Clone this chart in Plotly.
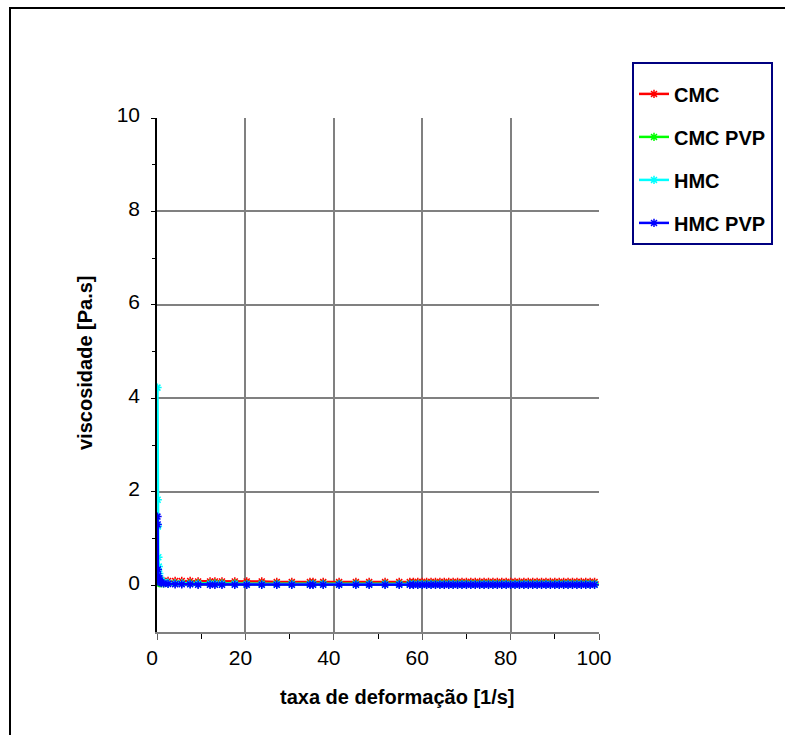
import plotly.graph_objects as go

# shear rate [1/s]
shear_rate = [0.1, 0.15, 0.2, 0.3, 0.4, 0.5, 0.7, 1.0, 1.5, 2.5, 4.1, 5.6, 7.5, 9.3,
              12.0, 13.1, 14.7, 17.6, 20.3, 23.7, 27.1, 30.5, 34.6, 35.3, 37.6, 41.2,
              45.0, 48.0, 51.6, 54.8, 57.2,
              58, 59, 60, 61, 62, 63, 64, 65, 66, 67, 68, 69, 70, 71, 72, 73, 74, 75,
              76, 77, 78, 79, 80, 81, 82, 83, 84, 85, 86, 87, 88, 89, 90, 91, 92, 93,
              94, 95, 96, 97, 98, 99, 100]

cmc = [0.16, 0.14, 0.13, 0.12, 0.11, 0.10, 0.10, 0.09, 0.09, 0.09, 0.09, 0.09, 0.09, 0.08,
       0.08, 0.08, 0.08, 0.08, 0.08, 0.08, 0.07, 0.07, 0.07, 0.07, 0.07, 0.07,
       0.07, 0.07, 0.07, 0.07, 0.07,
       0.07, 0.07, 0.07, 0.07, 0.07, 0.07, 0.07, 0.07, 0.07, 0.07, 0.07, 0.07, 0.07, 0.07,
       0.07, 0.07, 0.07, 0.07, 0.07, 0.07, 0.07, 0.07, 0.07, 0.07, 0.07, 0.07, 0.07, 0.07,
       0.07, 0.07, 0.07, 0.07, 0.07, 0.07, 0.07, 0.07, 0.07, 0.07, 0.07, 0.07, 0.07, 0.07]

cmc_pvp = [0.09, 0.08, 0.07, 0.06, 0.06, 0.05, 0.05, 0.05, 0.04, 0.04, 0.04, 0.04, 0.04, 0.04,
           0.04, 0.04, 0.04, 0.04, 0.03, 0.03, 0.03, 0.03, 0.03, 0.03, 0.03, 0.03,
           0.03, 0.03, 0.03, 0.03, 0.03,
           0.03, 0.03, 0.03, 0.03, 0.03, 0.03, 0.03, 0.03, 0.03, 0.03, 0.03, 0.03, 0.03, 0.03,
           0.03, 0.03, 0.03, 0.03, 0.03, 0.03, 0.03, 0.03, 0.03, 0.03, 0.03, 0.03, 0.03, 0.03,
           0.03, 0.03, 0.03, 0.03, 0.03, 0.03, 0.03, 0.03, 0.03, 0.03, 0.03, 0.03, 0.03, 0.03]

hmc = [4.23, 1.83, 1.26, 0.60, 0.40, 0.25, 0.15, 0.10, 0.07, 0.05, 0.04, 0.04, 0.03, 0.03,
       0.03, 0.03, 0.03, 0.03, 0.02, 0.02, 0.02, 0.02, 0.02, 0.02, 0.02, 0.02,
       0.02, 0.02, 0.02, 0.02, 0.02,
       0.02, 0.02, 0.02, 0.02, 0.02, 0.02, 0.02, 0.02, 0.02, 0.02, 0.02, 0.02, 0.02, 0.02,
       0.02, 0.02, 0.02, 0.02, 0.02, 0.02, 0.02, 0.02, 0.02, 0.02, 0.02, 0.02, 0.02, 0.02,
       0.02, 0.02, 0.02, 0.02, 0.02, 0.02, 0.02, 0.02, 0.02, 0.02, 0.02, 0.02, 0.02, 0.02]

hmc_pvp = [1.47, 1.30, 0.34, 0.20, 0.15, 0.10, 0.07, 0.05, 0.04, 0.03, 0.02, 0.02, 0.02, 0.01,
           0.01, 0.01, 0.01, 0.01, 0.01, 0.01, 0.01, 0.01, 0.01, 0.01, 0.01, 0.01,
           0.01, 0.01, 0.01, 0.01, 0.01,
           0.01, 0.01, 0.01, 0.01, 0.01, 0.01, 0.01, 0.01, 0.01, 0.01, 0.01, 0.01, 0.01, 0.01,
           0.01, 0.01, 0.01, 0.01, 0.01, 0.01, 0.01, 0.01, 0.01, 0.01, 0.01, 0.01, 0.01, 0.01,
           0.01, 0.01, 0.01, 0.01, 0.01, 0.01, 0.01, 0.01, 0.01, 0.01, 0.01, 0.01, 0.01, 0.01]

series = [("CMC", cmc, "#FF0000"), ("CMC PVP", cmc_pvp, "#00FF00"),
          ("HMC", hmc, "#00FFFF"), ("HMC PVP", hmc_pvp, "#0000FF")]

x_ticks = [0, 20, 40, 60, 80, 100]
y_ticks = [0, 2, 4, 6, 8, 10]
x_title = "taxa de deformação [1/s]"
y_title = "viscosidade [Pa.s]"

FONT = "Liberation Sans, Arial, sans-serif"

fig = go.Figure()
for name, ys, col in series:
    fig.add_trace(go.Scatter(
        x=shear_rate, y=ys, name=name, mode="lines+markers", legendgroup=name,
        line=dict(color=col, width=2.5),
        marker=dict(symbol="asterisk-open", size=7, color=col, line=dict(color=col, width=1.5)),
    ))

W, H = 785, 735
L, R, T, B = 157, 599, 118, 632
pw, ph = R - L, B - T

title_font = dict(family=FONT, size=20, color="black", weight="bold")

fig.update_layout(
    width=W, height=H,
    margin=dict(l=L, r=W - R, t=T, b=H - B, pad=0),
    paper_bgcolor="white", plot_bgcolor="white",
    font=dict(family=FONT, color="black"),
    showlegend=True,
    legend=dict(
        x=(632 - L) / pw, y=(B - 62) / ph, xanchor="left", yanchor="top",
        bordercolor="#000080", borderwidth=2, bgcolor="white",
        font=dict(family=FONT, size=20, color="black", weight="bold"),
        traceorder="grouped", tracegroupgap=14, itemwidth=30,
        title=dict(text="&nbsp;", font=dict(size=8)),
    ),
    xaxis=dict(
        range=[0, 100], tickvals=x_ticks, ticktext=[str(v) for v in x_ticks],
        showgrid=True, gridcolor="#808080", gridwidth=1.5,
        showline=True, linecolor="#808080", linewidth=1.5,
        ticks="outside", ticklen=6, tickcolor="#606060", tickwidth=1,
        minor=dict(tickvals=[10, 30, 50, 70, 90], ticks="outside", ticklen=5,
                   tickcolor="black", showgrid=False),
        tickfont=dict(family=FONT, size=21, color="black"),
        ticklabelshift=-5,
        zeroline=False,
    ),
    yaxis=dict(
        range=[-1, 10], tickvals=y_ticks, ticktext=[str(v) for v in y_ticks],
        showgrid=True, gridcolor="#808080", gridwidth=1.5,
        showline=True, linecolor="black", linewidth=1.5,
        ticks="outside", ticklen=4, tickcolor="black", tickwidth=1,
        minor=dict(tickvals=[1, 3, 5, 7, 9], ticks="outside", ticklen=3,
                   tickcolor="black", showgrid=False),
        tickfont=dict(family=FONT, size=21, color="black"),
        ticklabelstandoff=7, ticklabelshift=-3,
        zeroline=False,
    ),
    annotations=[
        dict(text=x_title, xref="paper", yref="paper",
             x=(397 - L) / pw, y=(B - 697) / ph, xanchor="center", yanchor="middle",
             showarrow=False, font=title_font),
        dict(text=y_title, xref="paper", yref="paper", textangle=-90,
             x=(85 - L) / pw, y=(B - 363) / ph, xanchor="center", yanchor="middle",
             showarrow=False, font=title_font),
    ],
)

# outer frame of the chart area
fig.add_shape(type="rect", xref="paper", yref="paper",
              x0=(10 - L) / pw, x1=(800 - L) / pw,
              y0=(B - 750) / ph, y1=(B - 8) / ph,
              line=dict(color="black", width=2), fillcolor="rgba(0,0,0,0)", layer="below")

fig.write_html("out.html")
